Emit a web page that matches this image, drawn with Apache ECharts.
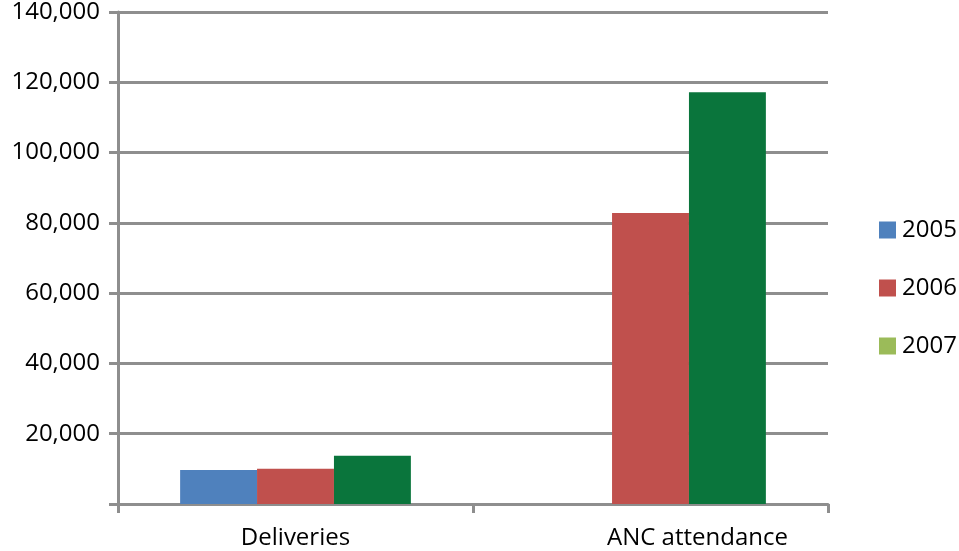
<!DOCTYPE html>
<html><head><meta charset="utf-8">
<script src="https://cdn.jsdelivr.net/npm/echarts@6/dist/echarts.min.js"></script>
<style>html,body{margin:0;padding:0;background:#fff}#c{width:959px;height:551px}</style>
</head><body><div id="c"></div>
<script>
const categories = ['Deliveries', 'ANC attendance'];
const seriesNames = ['2005', '2006', '2007'];
const values2005 = [9700, null];
const values2006 = [10000, 82800];
const values2007 = [13700, 117200];
const barColors = ['#4F81BD', '#C0504D', '#0A753C'];
const legendColors = ['#4F81BD', '#C0504D', '#9BBB59'];

const fontFam = '"Open Sans", "Noto Sans", sans-serif';
const grey = '#8E8E8E';
const chart = echarts.init(document.getElementById('c'));
const data = [values2005, values2006, values2007];
const labelPad = [[0, 0, 0, 0], [0, 0, 0, 94]];
chart.setOption({
  animation: false,
  grid: {left: 118, right: 131, top: 12, bottom: 47, containLabel: false},
  legend: {
    orient: 'vertical', left: 874, top: 213,
    itemWidth: 17, itemHeight: 17, itemGap: 34,
    icon: 'rect',
    textStyle: {fontFamily: fontFam, fontSize: 24, color: '#000', padding: [0,0,0,1]},
    data: seriesNames.map((n, i) => ({name: n, itemStyle: {color: legendColors[i]}}))
  },
  xAxis: {
    type: 'category',
    data: categories.map((c, i) => ({value: c, textStyle: {padding: labelPad[i]}})),
    axisLine: {lineStyle: {color: grey, width: 3}},
    axisTick: {show: true, length: 9, lineStyle: {color: grey, width: 3}},
    axisLabel: {fontFamily: fontFam, fontSize: 24, color: '#000', margin: 22}
  },
  yAxis: {
    type: 'value', min: 0, max: 140000, interval: 20000,
    axisLine: {show: true, lineStyle: {color: grey, width: 3}},
    axisTick: {show: true, length: 9, lineStyle: {color: grey, width: 3}},
    splitLine: {lineStyle: {color: grey, width: 3}},
    axisLabel: {
      fontFamily: fontFam, fontSize: 24, color: '#000', margin: 18,
      formatter: v => v === 0 ? '' : v.toLocaleString('en-US')
    }
  },
  series: seriesNames.map((n, i) => ({
    name: n, type: 'bar', data: data[i],
    barGap: '0%', barCategoryGap: '35%',
    itemStyle: {color: barColors[i]}
  }))
});
</script></body></html>
